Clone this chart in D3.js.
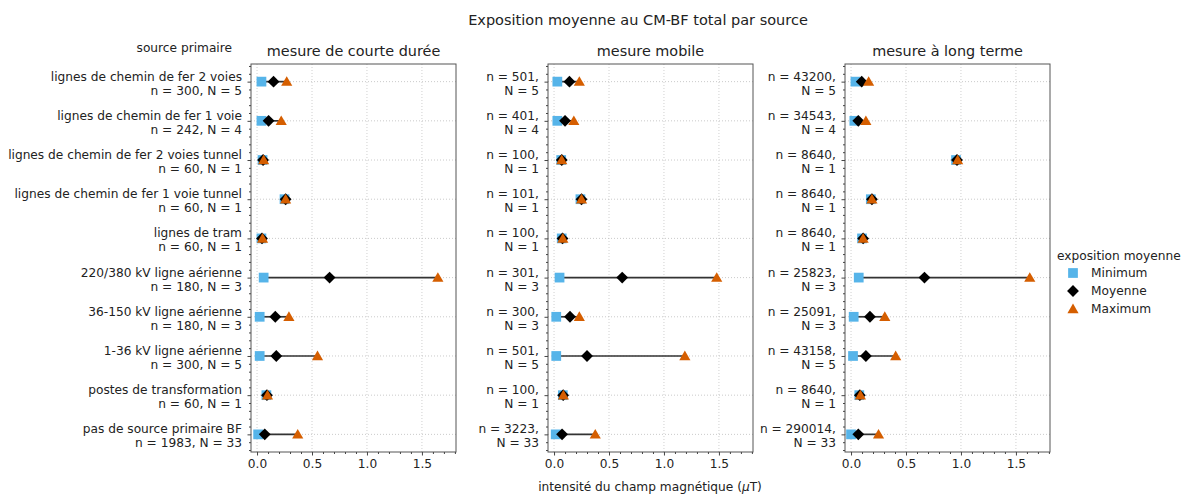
<!DOCTYPE html>
<html>
<head>
<meta charset="utf-8">
<script src="https://cdn.jsdelivr.net/npm/d3@7"></script>
<style>
  body { margin: 0; background: #fff; }
  svg text { font-family: "DejaVu Sans", sans-serif; fill: #222; }
</style>
</head>
<body>
<div id="chart"></div>
<script>
// categories (top to bottom)
const sources = [
  'lignes de chemin de fer 2 voies',
  'lignes de chemin de fer 1 voie',
  'lignes de chemin de fer 2 voies tunnel',
  'lignes de chemin de fer 1 voie tunnel',
  'lignes de tram',
  '220/380 kV ligne aérienne',
  '36-150 kV ligne aérienne',
  '1-36 kV ligne aérienne',
  'postes de transformation',
  'pas de source primaire BF'
];
const panelTitles = ['mesure de courte durée', 'mesure mobile', 'mesure à long terme'];
const seriesNames = ['Minimum', 'Moyenne', 'Maximum'];

// sample counts
const nCourte = [300, 242, 60, 60, 60, 180, 180, 300, 60, 1983];
const nMobile = [501, 401, 100, 101, 100, 301, 300, 501, 100, 3223];
const nLong = [43200, 34543, 8640, 8640, 8640, 25823, 25091, 43158, 8640, 290014];
const bigN = [5, 4, 1, 1, 1, 3, 3, 5, 1, 33];

// values (µT)
const minCourte = [0.04, 0.04, 0.05, 0.25, 0.04, 0.06, 0.024, 0.024, 0.085, 0.01];
const moyCourte = [0.15, 0.105, 0.055, 0.26, 0.045, 0.66, 0.166, 0.175, 0.09, 0.07];
const maxCourte = [0.27, 0.22, 0.06, 0.26, 0.05, 1.645, 0.29, 0.55, 0.095, 0.37];

const minMobile = [0.03, 0.03, 0.065, 0.24, 0.07, 0.05, 0.02, 0.02, 0.08, 0.015];
const moyMobile = [0.14, 0.10, 0.07, 0.25, 0.077, 0.62, 0.145, 0.30, 0.083, 0.073];
const maxMobile = [0.23, 0.18, 0.07, 0.25, 0.08, 1.48, 0.23, 1.19, 0.085, 0.375];

const minLong = [0.04, 0.03, 0.955, 0.18, 0.10, 0.07, 0.024, 0.018, 0.075, 0.0];
const moyLong = [0.097, 0.066, 0.964, 0.19, 0.11, 0.668, 0.172, 0.135, 0.08, 0.066];
const maxLong = [0.16, 0.135, 0.97, 0.19, 0.11, 1.626, 0.307, 0.406, 0.085, 0.25];

const xTicks = [0.0, 0.5, 1.0, 1.5];

const panels = [
  { title: panelTitles[0], n: nCourte, min: minCourte, moy: moyCourte, max: maxCourte, left: 251 },
  { title: panelTitles[1], n: nMobile, min: minMobile, moy: moyMobile, max: maxMobile, left: 548 },
  { title: panelTitles[2], n: nLong, min: minLong, moy: moyLong, max: maxLong, left: 845 }
];

const colors = { min: '#56B4E9', moy: '#000000', max: '#D55E00' };

const W = 1183, H = 495;
const panelW = 205;
const plotTop = 64, plotBottom = 452;
const fs = '12.2px';

const svg = d3.select('#chart').append('svg')
  .attr('width', W).attr('height', H);

// main title
svg.append('text')
  .attr('x', 638).attr('y', 20)
  .attr('text-anchor', 'middle').attr('dominant-baseline', 'central')
  .style('font-size', '14.5px')
  .text('Exposition moyenne au CM-BF total par source');

svg.append('text')
  .attr('x', 232).attr('y', 48)
  .attr('text-anchor', 'end').attr('dominant-baseline', 'central')
  .style('font-size', fs)
  .text('source primaire');

const x = d3.scaleLinear().domain([-0.055, 1.81]).range([0, panelW]);
const y = d3.scaleLinear().domain([-0.45, 9.45]).range([plotTop, plotBottom]);

const square = d3.symbol().type(d3.symbolSquare).size(95);
const diamond = d3.symbol().type(d3.symbolSquare).size(70);
const triangle = d3.symbol().type(d3.symbolTriangle).size(54);

panels.forEach((p, pi) => {
  const g = svg.append('g').attr('transform', `translate(${p.left},0)`);

  // grid
  g.append('g').selectAll('line').data(xTicks).enter().append('line')
    .attr('x1', d => x(d)).attr('x2', d => x(d))
    .attr('y1', plotTop).attr('y2', plotBottom)
    .attr('stroke', '#c4c4c4').attr('stroke-width', 0.8)
    .attr('stroke-dasharray', '1,2');
  g.append('g').selectAll('line').data(d3.range(sources.length)).enter().append('line')
    .attr('x1', 0).attr('x2', panelW)
    .attr('y1', d => y(d)).attr('y2', d => y(d))
    .attr('stroke', '#bdbdbd').attr('stroke-width', 0.8)
    .attr('stroke-dasharray', '1,2');

  // frame
  g.append('rect')
    .attr('x', 0).attr('y', plotTop)
    .attr('width', panelW).attr('height', plotBottom - plotTop)
    .attr('fill', 'none').attr('stroke', '#555').attr('stroke-width', 1);

  // x axis
  const xAxis = g.append('g').attr('transform', `translate(0,${plotBottom})`)
    .call(d3.axisBottom(x).tickValues(xTicks).tickFormat(d3.format('.1f')).tickSize(3.5).tickPadding(4));
  g.append('g').attr('transform', `translate(0,${plotBottom})`)
    .call(d3.axisBottom(x).tickValues(d3.range(0, 1.81, 0.1).filter(v => Math.abs(v * 2 - Math.round(v * 2)) > 0.01)).tickFormat('').tickSize(2))
    .call(a => a.select('.domain').remove());
  xAxis.select('.domain').remove();
  xAxis.selectAll('text').style('font-size', fs).attr('fill', '#222');

  // y axis
  const yAxis = g.append('g')
    .call(d3.axisLeft(y).tickValues(d3.range(sources.length)).tickFormat('').tickSize(3.5));
  yAxis.select('.domain').remove();
  g.append('g')
    .call(d3.axisLeft(y).tickValues(d3.range(-0.4, 9.41, 0.2).filter(v => Math.abs(v - Math.round(v)) > 0.01)).tickFormat('').tickSize(2))
    .call(a => a.select('.domain').remove());
  g.selectAll('.tick line').attr('stroke', '#444');

  // y labels (two lines)
  const lab = g.append('g').selectAll('text').data(d3.range(sources.length)).enter().append('text')
    .attr('x', -9).attr('text-anchor', 'end')
    .style('font-size', fs);
  lab.append('tspan')
    .attr('x', -9).attr('y', i => y(i) - 5).attr('dominant-baseline', 'central')
    .text(i => pi === 0 ? sources[i] : `n = ${p.n[i]},`);
  lab.append('tspan')
    .attr('x', -9).attr('y', i => y(i) + 9).attr('dominant-baseline', 'central')
    .text(i => pi === 0 ? `n = ${p.n[i]}, N = ${bigN[i]}` : `N = ${bigN[i]}`);

  // subplot title
  g.append('text')
    .attr('x', panelW / 2).attr('y', 51)
    .attr('text-anchor', 'middle').attr('dominant-baseline', 'central')
    .style('font-size', '14.4px')
    .text(p.title);

  const rows = d3.range(sources.length);

  // range lines
  g.append('g').selectAll('line').data(rows).enter().append('line')
    .attr('x1', i => x(p.min[i])).attr('x2', i => x(p.max[i]))
    .attr('y1', i => y(i)).attr('y2', i => y(i))
    .attr('stroke', '#333').attr('stroke-width', 1.7);

  g.append('g').selectAll('path').data(rows).enter().append('path')
    .attr('d', square)
    .attr('transform', i => `translate(${x(p.min[i])},${y(i)})`)
    .attr('fill', colors.min);
  g.append('g').selectAll('path').data(rows).enter().append('path')
    .attr('d', diamond)
    .attr('transform', i => `translate(${x(p.moy[i])},${y(i)}) rotate(45)`)
    .attr('fill', colors.moy);
  g.append('g').selectAll('path').data(rows).enter().append('path')
    .attr('d', triangle)
    .attr('transform', i => `translate(${x(p.max[i])},${y(i) + 1})`)
    .attr('fill', colors.max);
});

// x axis label
const xl = svg.append('text')
  .attr('x', 650).attr('y', 487)
  .attr('text-anchor', 'middle').attr('dominant-baseline', 'central')
  .style('font-size', fs);
xl.append('tspan').text('intensité du champ magnétique (');
xl.append('tspan').style('font-style', 'italic').text('μ');
xl.append('tspan').text('T)');

// legend
const leg = svg.append('g');
leg.append('text')
  .attr('x', 1057).attr('y', 256).attr('dominant-baseline', 'central')
  .style('font-size', fs)
  .text('exposition moyenne');
const legShapes = [
  { d: square, fill: colors.min, rot: 0 },
  { d: diamond, fill: colors.moy, rot: 45 },
  { d: triangle, fill: colors.max, rot: 0 }
];
seriesNames.forEach((name, i) => {
  const yy = 273 + i * 18;
  leg.append('path')
    .attr('d', legShapes[i].d)
    .attr('transform', `translate(1073,${yy + (i === 2 ? 1 : 0)}) rotate(${legShapes[i].rot})`)
    .attr('fill', legShapes[i].fill);
  leg.append('text')
    .attr('x', 1091).attr('y', yy).attr('dominant-baseline', 'central')
    .style('font-size', fs)
    .text(name);
});
</script>
</body>
</html>
